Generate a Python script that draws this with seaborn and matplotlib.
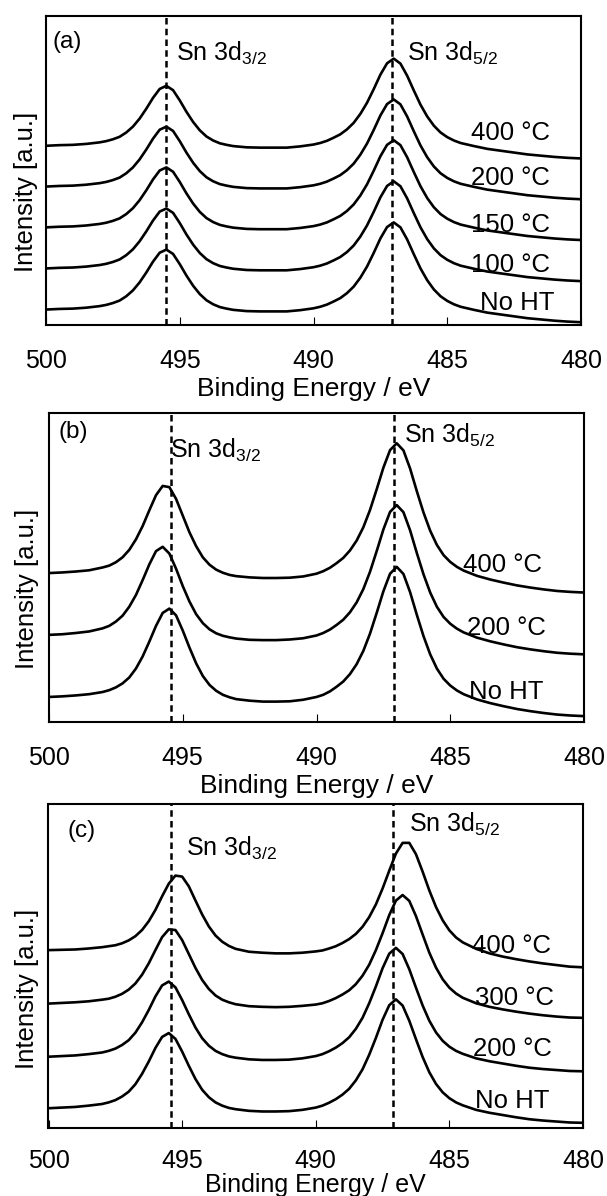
import numpy as np
import pandas as pd
import matplotlib
matplotlib.use("Agg")
import matplotlib.pyplot as plt
import seaborn as sns

# Binding-energy grid shared by every Sn 3d spectrum (eV)
energy = [500, 499.5, 499, 498.5, 498, 497.75, 497.5, 497.25, 497, 496.75,
          496.5, 496.25, 496, 495.75, 495.5, 495.25, 495, 494.75, 494.5, 494.25,
          494, 493.75, 493.5, 493.25, 493, 492.5, 492, 491.5, 491, 490.5,
          490, 489.75, 489.5, 489.25, 489, 488.75, 488.5, 488.25, 488, 487.75,
          487.5, 487.25, 487, 486.75, 486.5, 486.25, 486, 485.75, 485.5, 485.25,
          485, 484.75, 484.5, 484, 483.5, 483, 482.5, 482, 481.5, 481,
          480.5, 480]

# (a) stacked spectra, intensity in arbitrary units
a_names = ["No HT", "100 °C", "150 °C", "200 °C", "400 °C"]
a_no_ht = [5.0, 5.2, 5.3, 5.6, 6.1, 6.5, 7.1, 7.9, 9.3, 11.2,
           13.8, 17.0, 20.5, 23.4, 24.4, 23.0, 19.7, 16.0, 12.7, 10.0,
           8.0, 6.7, 5.8, 5.3, 4.9, 4.5, 4.4, 4.4, 4.4, 4.8,
           5.4, 5.9, 6.6, 7.6, 8.7, 10.3, 12.4, 15.3, 18.9, 23.3,
           28.0, 31.7, 33.2, 31.6, 27.7, 22.9, 18.3, 14.5, 11.5, 9.3,
           7.8, 6.7, 5.9, 4.9, 4.0, 3.4, 2.8, 2.2, 1.8, 1.4,
           1.1, 0.9]
a_100 = [18.3, 18.5, 18.6, 18.9, 19.4, 19.8, 20.4, 21.2, 22.6, 24.5,
         27.1, 30.3, 33.8, 36.7, 37.7, 36.3, 33.0, 29.3, 26.0, 23.3,
         21.3, 20.0, 19.1, 18.6, 18.2, 17.8, 17.7, 17.7, 17.7, 18.1,
         18.7, 19.2, 19.9, 20.9, 22.0, 23.6, 25.7, 28.6, 32.2, 36.6,
         41.3, 45.0, 46.5, 44.9, 41.0, 36.2, 31.6, 27.8, 24.8, 22.6,
         21.1, 20.0, 19.2, 18.2, 17.3, 16.7, 16.1, 15.5, 15.1, 14.7,
         14.4, 14.2]
a_150 = [31.6, 31.8, 31.9, 32.2, 32.7, 33.1, 33.7, 34.5, 35.9, 37.8,
         40.4, 43.6, 47.1, 50.0, 51.0, 49.6, 46.3, 42.6, 39.3, 36.6,
         34.6, 33.3, 32.4, 31.9, 31.5, 31.1, 31.0, 31.0, 31.0, 31.4,
         32.0, 32.5, 33.2, 34.2, 35.3, 36.9, 39.0, 41.9, 45.5, 49.9,
         54.6, 58.3, 59.8, 58.2, 54.3, 49.5, 44.9, 41.1, 38.1, 35.9,
         34.4, 33.3, 32.5, 31.5, 30.6, 30.0, 29.4, 28.8, 28.4, 28.0,
         27.7, 27.5]
a_200 = [44.8, 45.0, 45.1, 45.4, 45.9, 46.3, 46.9, 47.7, 49.1, 51.0,
         53.6, 56.8, 60.3, 63.2, 64.2, 62.8, 59.5, 55.8, 52.5, 49.8,
         47.8, 46.5, 45.6, 45.1, 44.7, 44.3, 44.2, 44.2, 44.2, 44.6,
         45.2, 45.7, 46.4, 47.4, 48.5, 50.1, 52.2, 55.1, 58.7, 63.1,
         67.8, 71.5, 73.0, 71.4, 67.5, 62.7, 58.1, 54.3, 51.3, 49.1,
         47.6, 46.5, 45.7, 44.7, 43.8, 43.2, 42.6, 42.0, 41.6, 41.2,
         40.9, 40.7]
a_400 = [58.0, 58.2, 58.3, 58.6, 59.1, 59.5, 60.1, 60.9, 62.3, 64.2,
         66.8, 70.0, 73.5, 76.4, 77.4, 76.0, 72.7, 69.0, 65.7, 63.0,
         61.0, 59.7, 58.8, 58.3, 57.9, 57.5, 57.4, 57.4, 57.4, 57.8,
         58.4, 58.9, 59.6, 60.6, 61.7, 63.3, 65.4, 68.3, 71.9, 76.3,
         81.0, 84.7, 86.2, 84.6, 80.7, 75.9, 71.3, 67.5, 64.5, 62.3,
         60.8, 59.7, 58.9, 57.9, 57.0, 56.4, 55.8, 55.2, 54.8, 54.4,
         54.1, 53.9]
a_peaks = [495.5, 487.05]

# (b)
b_names = ["No HT", "200 °C", "400 °C"]
b_no_ht = [8.1, 8.3, 8.6, 9.0, 9.7, 10.3, 11.2, 12.5, 14.4, 17.3,
           21.2, 26.0, 31.1, 35.3, 36.7, 34.5, 29.6, 24.1, 19.0, 14.9,
           12.0, 10.1, 8.8, 8.0, 7.4, 6.9, 6.6, 6.6, 6.7, 7.2,
           8.1, 8.8, 9.9, 11.4, 13.1, 15.5, 18.7, 23.0, 28.6, 35.3,
           42.3, 48.0, 50.2, 47.9, 42.0, 34.7, 27.8, 21.9, 17.3, 14.0,
           11.8, 10.2, 9.0, 7.3, 6.1, 5.1, 4.2, 3.5, 2.9, 2.4,
           2.1, 1.9]
b_200 = [28.2, 28.4, 28.8, 29.3, 30.3, 31.1, 32.5, 34.4, 37.3, 41.1,
         45.9, 51.0, 55.3, 56.7, 54.5, 49.6, 44.0, 39.0, 34.9, 32.0,
         30.0, 28.7, 27.9, 27.4, 27.0, 26.6, 26.5, 26.5, 26.7, 27.1,
         28.0, 28.8, 29.9, 31.4, 33.1, 35.5, 38.7, 43.0, 48.6, 55.3,
         62.3, 68.0, 70.2, 67.9, 62.0, 54.7, 47.8, 41.9, 37.3, 34.0,
         31.8, 30.2, 29.0, 27.3, 26.1, 25.1, 24.2, 23.5, 22.9, 22.4,
         22.1, 21.9]
b_400 = [48.2, 48.4, 48.7, 49.1, 50.0, 50.6, 51.7, 53.3, 55.7, 59.1,
         63.4, 68.5, 73.4, 76.4, 76.0, 72.2, 66.8, 61.4, 56.9, 53.3,
         50.9, 49.3, 48.3, 47.6, 47.2, 46.8, 46.6, 46.6, 46.7, 47.1,
         48.0, 48.8, 49.9, 51.4, 53.1, 55.5, 58.7, 63.0, 68.6, 75.3,
         82.3, 88.0, 90.2, 87.9, 82.0, 74.7, 67.8, 61.9, 57.3, 54.0,
         51.8, 50.2, 49.0, 47.3, 46.1, 45.1, 44.2, 43.5, 42.9, 42.4,
         42.1, 41.9]
b_peaks = [495.45, 487.1]

# (c)
c_names = ["No HT", "200 °C", "300 °C", "400 °C"]
c_no_ht = [6.1, 6.3, 6.5, 6.9, 7.4, 7.9, 8.6, 9.7, 11.2, 13.5,
           16.7, 20.5, 24.7, 28.1, 29.3, 27.5, 23.6, 19.2, 15.1, 11.8,
           9.5, 7.9, 6.9, 6.2, 5.8, 5.3, 5.1, 5.1, 5.2, 5.6,
           6.3, 6.9, 7.8, 8.9, 10.3, 12.1, 14.7, 18.1, 22.6, 27.8,
           33.4, 37.9, 39.7, 37.8, 33.1, 27.4, 21.9, 17.2, 13.6, 11.0,
           9.2, 7.9, 7.0, 5.6, 4.7, 4.0, 3.3, 2.7, 2.3, 2.0,
           1.7, 1.6]
c_200 = [22.0, 22.2, 22.4, 22.8, 23.3, 23.8, 24.5, 25.6, 27.1, 29.4,
         32.6, 36.4, 40.6, 44.0, 45.2, 43.4, 39.5, 35.1, 31.0, 27.7,
         25.4, 23.8, 22.8, 22.1, 21.7, 21.2, 21.0, 21.0, 21.1, 21.5,
         22.2, 22.8, 23.7, 24.8, 26.2, 28.0, 30.6, 34.0, 38.5, 43.7,
         49.3, 53.8, 55.6, 53.7, 49.0, 43.3, 37.8, 33.1, 29.5, 26.9,
         25.1, 23.8, 22.9, 21.5, 20.6, 19.9, 19.2, 18.6, 18.2, 17.9,
         17.6, 17.5]
c_300 = [38.4, 38.6, 38.8, 39.1, 39.6, 39.9, 40.5, 41.4, 42.7, 44.6,
         47.3, 50.8, 54.9, 58.9, 61.3, 61.1, 58.0, 53.7, 49.4, 45.7,
         42.9, 40.9, 39.6, 38.8, 38.2, 37.6, 37.4, 37.3, 37.4, 37.7,
         38.1, 38.5, 39.2, 40.1, 41.2, 42.5, 44.4, 47.0, 50.4, 54.9,
         60.1, 65.7, 70.2, 71.9, 70.1, 65.4, 59.7, 54.1, 49.5, 45.9,
         43.3, 41.5, 40.2, 38.5, 37.4, 36.6, 35.9, 35.3, 34.8, 34.4,
         34.1, 34.0]
c_400 = [54.9, 55.0, 55.1, 55.4, 55.8, 56.1, 56.4, 57.0, 57.9, 59.2,
         61.1, 63.8, 67.3, 71.5, 75.4, 77.9, 77.6, 74.6, 70.2, 65.9,
         62.2, 59.4, 57.5, 56.2, 55.3, 54.4, 54.1, 53.9, 53.9, 54.1,
         54.5, 54.8, 55.4, 56.1, 57.1, 58.3, 59.9, 62.1, 65.1, 69.0,
         73.9, 79.4, 84.7, 88.0, 88.0, 84.5, 79.1, 73.3, 68.2, 64.1,
         61.0, 58.8, 57.3, 55.3, 53.9, 52.9, 52.1, 51.4, 50.8, 50.3,
         49.8, 49.6]
c_peaks = [495.4, 487.1]

xticks = [500, 495, 490, 485, 480]
xtick_labels = ["500", "495", "490", "485", "480"]

sns.set_style("white")
plt.rcParams["font.family"] = ["Liberation Sans", "DejaVu Sans"]
plt.rcParams["mathtext.fontset"] = "custom"
plt.rcParams["mathtext.rm"] = "Liberation Sans"
plt.rcParams["mathtext.it"] = "Liberation Sans:italic"
plt.rcParams["mathtext.bf"] = "Liberation Sans:bold"
plt.rcParams["mathtext.default"] = "regular"
for key in ("text.color", "axes.labelcolor", "xtick.color", "ytick.color", "axes.edgecolor"):
    plt.rcParams[key] = "black"

W, H = 607, 1196
fig = plt.figure(figsize=(W / 100, H / 100), dpi=100)

panels = [
    dict(rect=[46 / W, 1 - 325 / H, 535 / W, 309 / H],
         names=a_names, series=[a_no_ht, a_100, a_150, a_200, a_400], peaks=a_peaks,
         letter="(a)", letter_xy=(0.013, 0.916),
         sn32_xy=(0.243, 0.854), sn52_xy=(0.675, 0.854),
         label_xy=[(0.951, 0.049), (0.942, 0.172), (0.942, 0.301), (0.942, 0.453), (0.942, 0.599)],
         tick_pad=17, xlabel_y=-0.168, xlabel_size=19, ylabel_x=-0.037),
    dict(rect=[49 / W, 1 - 722 / H, 535 / W, 309 / H],
         names=b_names, series=[b_no_ht, b_200, b_400], peaks=b_peaks,
         letter="(b)", letter_xy=(0.018, 0.940),
         sn32_xy=(0.227, 0.854), sn52_xy=(0.664, 0.903),
         label_xy=[(0.924, 0.074), (0.928, 0.280), (0.921, 0.486)],
         tick_pad=17, xlabel_y=-0.168, xlabel_size=19, ylabel_x=-0.042),
    dict(rect=[48.5 / W, 1 - 1128 / H, 534.5 / W, 324 / H],
         names=c_names, series=[c_no_ht, c_200, c_300, c_400], peaks=c_peaks,
         letter="(c)", letter_xy=(0.036, 0.918),
         sn32_xy=(0.257, 0.841), sn52_xy=(0.674, 0.913),
         label_xy=[(0.938, 0.062), (0.941, 0.221), (0.945, 0.380), (0.941, 0.539)],
         tick_pad=15.2, xlabel_y=-0.1385, xlabel_size=18, ylabel_x=-0.041),
]

for p in panels:
    ax = fig.add_axes(p["rect"])
    frames = [pd.DataFrame({"energy": energy, "intensity": s, "sample": name})
              for name, s in zip(p["names"], p["series"])]
    df = pd.concat(frames, ignore_index=True)
    sns.lineplot(data=df, x="energy", y="intensity", units="sample", estimator=None,
                 color="black", lw=1.9, legend=False, sort=False, ax=ax)
    for pk in p["peaks"]:
        ax.axvline(pk, color="black", lw=1.8, dashes=(2.6, 1.7))

    ax.set_xlim(500, 480)
    ax.set_ylim(0, 100)
    ax.set_xticks(xticks)
    ax.set_xticklabels(xtick_labels)
    ax.set_yticks([])
    ax.tick_params(axis="x", direction="in", length=5.8, width=0.8, pad=p["tick_pad"],
                   labelsize=18, colors="black", bottom=True, top=False)
    for s in ax.spines.values():
        s.set_visible(True)
        s.set_linewidth(1.5)
        s.set_color("black")

    ax.set_xlabel("Binding Energy / eV", fontsize=p["xlabel_size"])
    ax.xaxis.set_label_coords(0.5, p["xlabel_y"])
    ax.set_ylabel("Intensity [a.u.]", fontsize=18.5, va="center")
    ax.yaxis.set_label_coords(p["ylabel_x"], 0.43)

    ax.text(*p["letter_xy"], p["letter"], transform=ax.transAxes,
            ha="left", va="center", fontsize=17.5)
    ax.text(*p["sn32_xy"], r"Sn 3d$_{3/2}$", transform=ax.transAxes,
            ha="left", va="baseline", fontsize=18)
    ax.text(*p["sn52_xy"], r"Sn 3d$_{5/2}$", transform=ax.transAxes,
            ha="left", va="baseline", fontsize=18)
    for name, (tx, ty) in zip(p["names"], p["label_xy"]):
        ax.text(tx, ty, name, transform=ax.transAxes, ha="right", va="baseline",
                fontsize=18.5)

fig.savefig("out.png", dpi=100, facecolor="white")
